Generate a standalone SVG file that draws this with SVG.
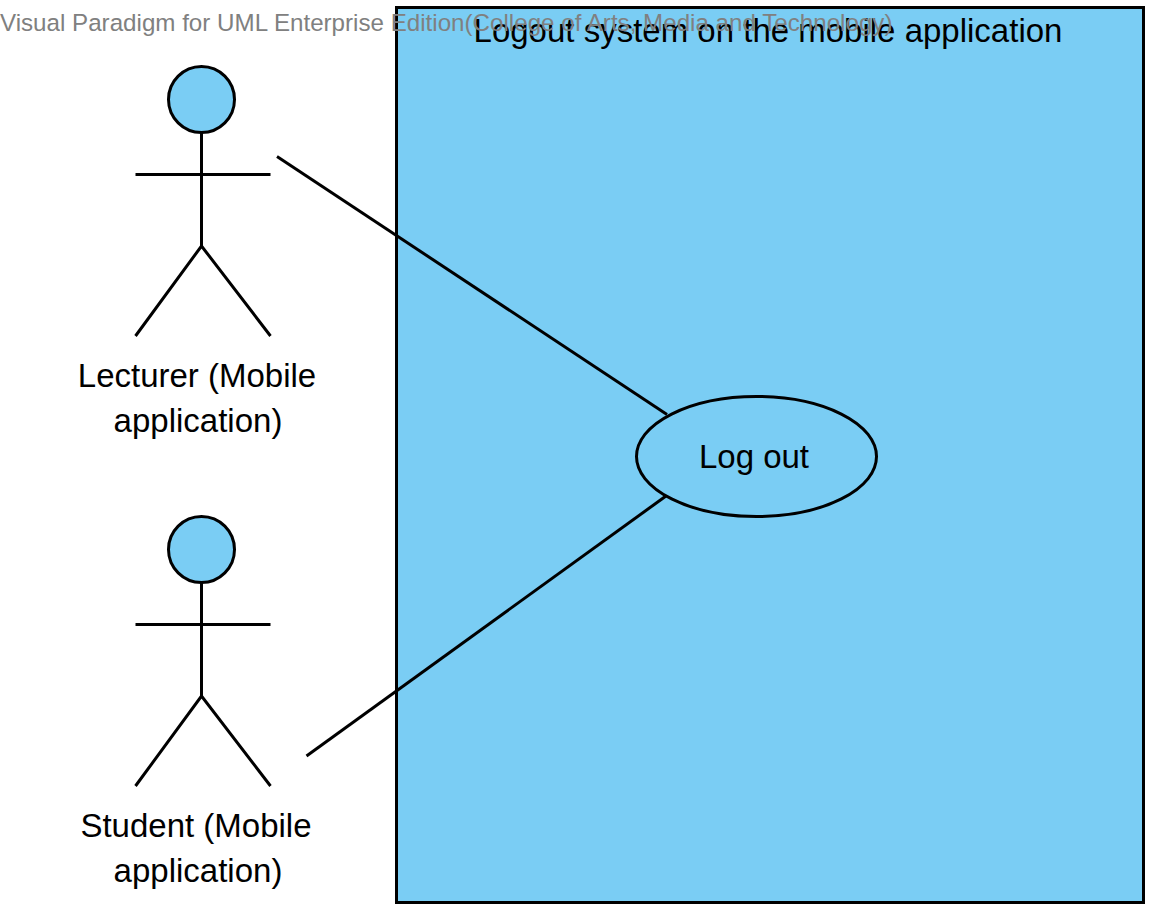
<svg xmlns="http://www.w3.org/2000/svg" width="1158" height="918" viewBox="0 0 1158 918">
<style>
text{font-family:"Liberation Sans",Arial,sans-serif;font-size:33px;fill:#000}
.s{fill:none;stroke:#000;stroke-width:3}
.f{fill:#7acdf4;stroke:#000;stroke-width:3}
.m{text-anchor:middle}
</style>
<rect width="1158" height="918" fill="#fff"/>
<g id="system">
<rect class="f" x="396.500" y="7.500" width="747" height="895"/>
<text class="m" x="768" y="42">Logout system on the mobile application</text>
</g>
<g id="connectors">
<line class="s" x1="277" y1="156.500" x2="667" y2="414.500"/>
<line class="s" x1="306.500" y1="756" x2="666" y2="496"/>
</g>
<g id="lecturer">
<circle class="f" cx="201.500" cy="99.500" r="33"/>
<path class="s" d="M201.500 132.500V246M135.500 174.500H270.500M135.500 336L201.500 246L270.500 336"/>
<text class="m" x="197" y="387">Lecturer (Mobile</text>
<text class="m" x="198" y="432">application)</text>
</g>
<g id="student">
<circle class="f" cx="201.500" cy="549.500" r="33"/>
<path class="s" d="M201.500 582.500V696M135.500 624.500H270.500M135.500 786L201.500 696L270.500 786"/>
<text class="m" x="196" y="837">Student (Mobile</text>
<text class="m" x="198" y="882">application)</text>
</g>
<g id="logout">
<ellipse class="f" cx="756.500" cy="456.500" rx="120" ry="60"/>
<text class="m" x="754" y="468">Log out</text>
</g>
<text x="0" y="31" style="font-size:24.160px;fill:#808080">Visual Paradigm for UML Enterprise Edition(College of Arts, Media and Technology)</text>
</svg>
